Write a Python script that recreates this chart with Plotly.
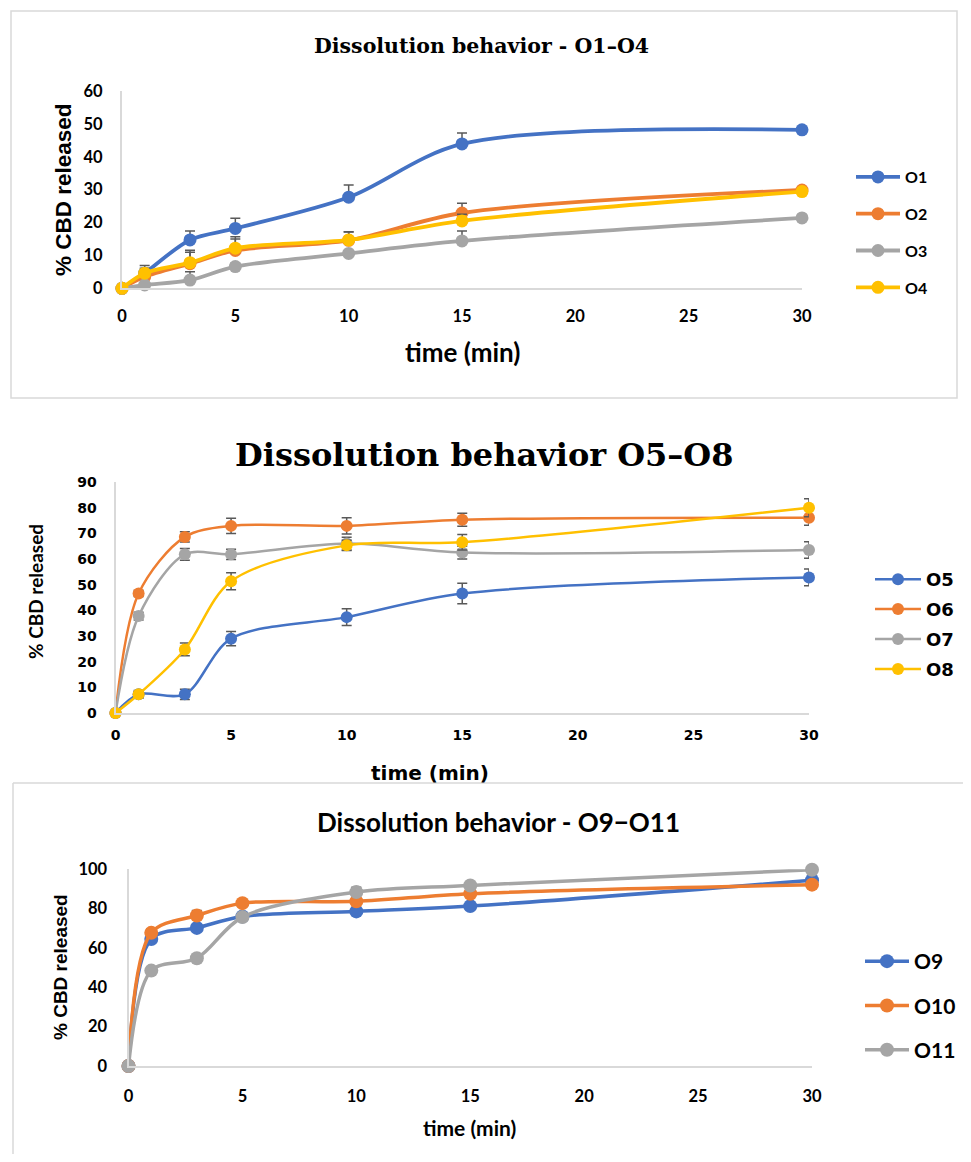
import plotly.graph_objects as go

W0, H0 = 971, 1162
M = 8  # default page body margin
W, H = W0 - 2 * M, H0 - 2 * M

def px(x):
    return (x - M) / W

def py(y):
    return 1 - (y - M) / H

# ---------------- data ----------------
time_min = [0, 1, 3, 5, 10, 15, 30]

# Panel 1: O1-O4
o1 = [0, 4.6, 14.7, 18.2, 27.7, 43.9, 48.2]
o2 = [0, 3.5, 7.5, 11.5, 14.6, 22.9, 29.9]
o3 = [0, 1.0, 2.5, 6.6, 10.6, 14.4, 21.4]
o4 = [0, 4.6, 7.8, 12.2, 14.7, 20.5, 29.4]
o1_err = [0, 2.3, 2.7, 3.1, 3.7, 3.3, 0.5]
o2_err = [0, 1.5, 3.5, 3.5, 2.5, 3.0, 0.5]
o3_err = [0, 0.5, 2.5, 1.0, 0.8, 3.0, 0.5]
o4_err = [0, 1.5, 3.8, 3.5, 2.5, 2.0, 0.5]

# Panel 2: O5-O8
o5 = [0, 7.3, 7.3, 29.0, 37.4, 46.6, 52.9]
o6 = [0, 46.6, 68.7, 73.0, 73.0, 75.4, 76.2]
o7 = [0, 37.8, 61.9, 61.9, 66.1, 62.6, 63.6]
o8 = [0, 7.3, 24.8, 51.4, 65.4, 66.6, 80.1]
o5_err = [0, 1.5, 2.0, 2.8, 3.3, 4.0, 3.3]
o6_err = [0, 1.2, 2.0, 3.0, 3.2, 2.5, 3.0]
o7_err = [0, 1.5, 2.3, 2.0, 2.5, 2.5, 3.2]
o8_err = [0, 1.0, 2.5, 3.3, 2.0, 3.0, 3.5]

# Panel 3: O9-O11
o9 = [0, 64.6, 70.2, 76.0, 78.6, 81.3, 94.4]
o10 = [0, 67.7, 76.5, 82.8, 83.7, 87.6, 92.2]
o11 = [0, 48.5, 54.8, 75.7, 88.4, 91.8, 99.8]
o9_err = [0, 1.0, 1.0, 1.0, 1.0, 1.0, 1.0]
o10_err = [0, 2.0, 2.5, 1.5, 1.0, 1.0, 1.0]
o11_err = [0, 2.0, 1.5, 1.5, 2.5, 1.0, 1.0]

x_ticks = [0, 5, 10, 15, 20, 25, 30]

BLUE, ORANGE, GRAY, YELLOW = "#4472C4", "#ED7D31", "#A5A5A5", "#FFC000"
ERRC = "#595959"

fig = go.Figure()

def add(name, y, err, color, xa, ya, leg, lw, ms, plus_only):
    if plus_only:
        ey = dict(type="data", array=err, arrayminus=[0] * len(err), symmetric=False,
                  color=ERRC, thickness=1.5, width=5)
    else:
        ey = dict(type="data", array=err, symmetric=True, color=ERRC, thickness=1.5, width=5)
    fig.add_trace(go.Scatter(
        x=time_min, y=y, name=name, mode="lines+markers",
        line=dict(color=color, width=lw, shape="spline", smoothing=0.9),
        marker=dict(color=color, size=ms),
        error_y=ey, xaxis=xa, yaxis=ya, legend=leg, legendgroup=name,
        cliponaxis=False,
    ))

for n, y, e, c in [("O1", o1, o1_err, BLUE), ("O2", o2, o2_err, ORANGE),
                   ("O3", o3, o3_err, GRAY), ("O4", o4, o4_err, YELLOW)]:
    add(n, y, e, c, "x", "y", "legend", 3.8, 13, True)

for n, y, e, c in [("O5", o5, o5_err, BLUE), ("O6", o6, o6_err, ORANGE),
                   ("O7", o7, o7_err, GRAY), ("O8", o8, o8_err, YELLOW)]:
    add(n, y, e, c, "x2", "y2", "legend2", 2.5, 12, False)

for n, y, e, c in [("O9", o9, o9_err, BLUE), ("O10", o10, o10_err, ORANGE),
                   ("O11", o11, o11_err, GRAY)]:
    add(n, y, e, c, "x3", "y3", "legend3", 3.5, 14, True)

AXC = "#D9D9D9"

def xax(dom, anchor, font, ticklen):
    return dict(domain=dom, anchor=anchor, range=[0, 30], tickvals=x_ticks,
                showline=True, linecolor=AXC, linewidth=2, showgrid=False, zeroline=False,
                ticks="outside", ticklen=ticklen, tickcolor="rgba(0,0,0,0)",
                tickfont=font, fixedrange=True, automargin=False)

def yax(dom, anchor, rng, dtick, font, ticklen):
    return dict(domain=dom, anchor=anchor, range=rng, dtick=dtick,
                showline=True, linecolor=AXC, linewidth=2, showgrid=False, zeroline=False,
                ticks="outside", ticklen=ticklen, tickcolor="rgba(0,0,0,0)",
                tickfont=font, fixedrange=True, automargin=False)

f1 = dict(family="Lato", size=16.5, color="#000000", weight="bold")
f2 = dict(family="DejaVu Sans", size=14, color="#000000", weight="bold")
f3 = dict(family="Lato", size=16.5, color="#000000", weight="bold")

fig.update_layout(
    width=W, height=H, margin=dict(l=0, r=0, t=0, b=0, pad=0, autoexpand=False),
    paper_bgcolor="white", plot_bgcolor="rgba(0,0,0,0)",
    xaxis=xax([px(122), px(802)], "y", f1, 12),
    yaxis=yax([py(288.3), py(91)], "x", [0, 60], 10, f1, 14),
    xaxis2=xax([px(115.5), px(809)], "y2", f2, 8),
    yaxis2=yax([py(713), py(482.3)], "x2", [0, 90], 10, f2, 14),
    xaxis3=xax([px(128.5), px(812)], "y3", f3, 14),
    yaxis3=yax([py(1066), py(869.3)], "x3", [0, 100], 20, f3, 16),
    legend=dict(x=px(851), y=py(160), xanchor="left", yanchor="top",
                font=dict(family="Lato", size=16, color="#000", weight="bold"),
                bgcolor="rgba(0,0,0,0)", tracegroupgap=13, itemwidth=44),
    legend2=dict(x=px(870), y=py(561), xanchor="left", yanchor="top",
                 font=dict(family="DejaVu Sans", size=18, color="#000", weight="bold"),
                 bgcolor="rgba(0,0,0,0)", tracegroupgap=3.5, itemwidth=46),
    legend3=dict(x=px(860), y=py(941), xanchor="left", yanchor="top",
                 font=dict(family="Lato", size=21, color="#000", weight="bold"),
                 bgcolor="rgba(0,0,0,0)", tracegroupgap=14, itemwidth=44),
    showlegend=True,
)

ann = []
def text(t, x, y, font, angle=0):
    ann.append(dict(text=t, x=px(x), y=py(y), xref="paper", yref="paper",
                    showarrow=False, xanchor="center", yanchor="middle",
                    font=font, textangle=angle))

text("Dissolution behavior - O1–O4", 481, 46,
     dict(family="DejaVu Serif", size=20.5, color="#000", weight="bold"))
text("% CBD released", 63, 190,
     dict(family="Liberation Sans", size=22.5, color="#000", weight="bold"), -90)
text("time (min)", 462, 352,
     dict(family="Lato", size=26, color="#000", weight="bold"))

text("Dissolution behavior O5–O8", 484, 455,
     dict(family="DejaVu Serif", size=32, color="#000", weight="bold"))
text("% CBD released", 35, 592,
     dict(family="Lato", size=19, color="#000", weight="bold"), -90)
text("time (min)", 430, 773,
     dict(family="DejaVu Sans", size=20, color="#000", weight="bold"))

text("Dissolution behavior - O9−O11", 498, 822,
     dict(family="Lato", size=26, color="#000", weight="bold"))
text("% CBD released", 60, 967,
     dict(family="Liberation Sans", size=19, color="#000", weight="bold"), -90)
text("time (min)", 469, 1127,
     dict(family="Lato", size=21, color="#000", weight="bold"))

fig.update_layout(annotations=ann)

fig.update_layout(shapes=[
    dict(type="rect", xref="paper", yref="paper", x0=px(11), x1=px(957), y0=py(398), y1=py(11),
         line=dict(color="#D9D9D9", width=1.5), layer="below"),
    dict(type="line", xref="paper", yref="paper", x0=px(13), x1=px(971), y0=py(783), y1=py(783),
         line=dict(color="#D9D9D9", width=1.5), layer="below"),
    dict(type="line", xref="paper", yref="paper", x0=px(13), x1=px(13), y0=py(783), y1=py(1162),
         line=dict(color="#D9D9D9", width=1.5), layer="below"),
])

fig.write_html("out.html")
